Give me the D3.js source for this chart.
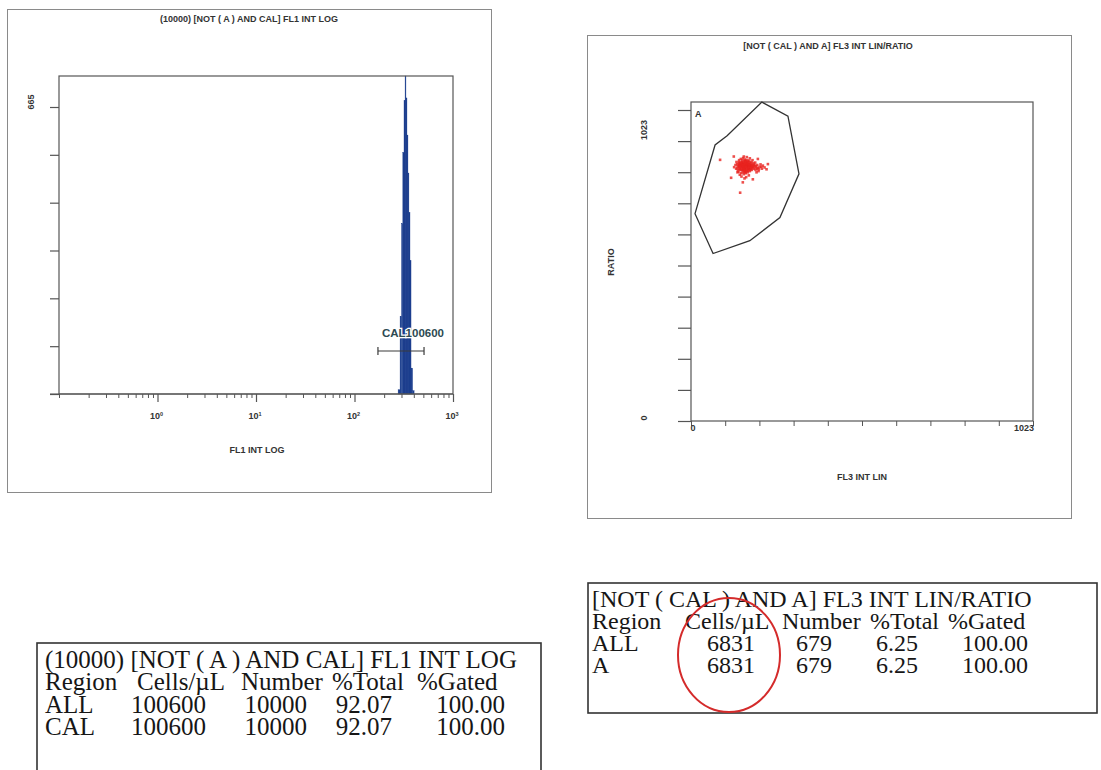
<!DOCTYPE html>
<html>
<head>
<meta charset="utf-8">
<script src="https://cdn.jsdelivr.net/npm/d3@7"></script>
<style>
  body { margin: 0; background: #fff; }
  svg { display: block; }
  .lab { font-family: "Liberation Sans", Arial, sans-serif; font-weight: bold; font-size: 9px; fill: #333; }
  .tbl { font-family: "Liberation Serif", "Times New Roman", serif; font-size: 24px; fill: #161616; }
</style>
</head>
<body>
<script>
// FL1 INT LOG histogram (bin edges in FL1 units, counts per bin)
let histEdges = [277, 290, 300, 309, 318, 326, 333, 341, 349, 357, 366, 375, 389, 403]
let histCounts = [10, 180, 395, 560, 680, 737, 686, 600, 512, 420, 309, 60, 8]
let calGate = [173, 508]
let calLabel = 'CAL100600'
let histYTicks = [0, 110.8, 221.7, 332.5, 443.3, 554.2, 665]
let logMajor = [1, 10, 100, 1000]
let logExp = ['0', '1', '2', '3']

// FL3 INT LIN / RATIO dot plot
let gateA = [[212, 1049], [290, 1003], [323, 813], [266, 669], [176, 593], [66, 551], [12, 682], [72, 908], [108, 938]]
let events = [
  [150,840],[155,845],[160,838],[165,842],[170,836],[158,850],[148,832],[162,828],[172,845],[168,852],
  [145,848],[152,825],[175,830],[180,840],[178,848],[157,833],[163,855],[153,858],[167,822],[140,838],
  [146,842],[159,844],[171,828],[185,835],[190,842],[195,838],[200,832],[205,836],[212,830],[220,834],
  [143,852],[149,862],[156,865],[161,860],[166,858],[174,856],[181,852],[187,848],[138,845],[135,830],
  [142,820],[150,815],[158,812],[164,815],[170,818],[176,822],[182,826],[188,830],[193,826],[198,842],
  [154,836],[160,832],[166,846],[172,840],[178,834],[152,850],[147,826],[163,838],[169,830],[157,842],
  [151,804],[160,798],[146,810],[173,808],[165,802],[139,818],[133,842],[129,835],[184,858],[192,850],
  [208,844],[215,840],[226,828],[202,822],[196,818],[158,870],[167,868],[176,864],[144,858],[136,852],
  [87,859],[147,751],[120,800],[230,845],[185,795],[155,785],[128,870],[200,862],[156,828],[162,848],
  [149,845],[168,838],[174,828],[153,840],[161,822],[177,842],[144,836],[159,856],[171,850],[183,844],
  [151,835],[156,839],[161,843],[166,835],[171,842],[176,838],[155,826],[160,820],[165,826],[170,824],
  [148,838],[153,845],[158,835],[163,832],[168,844],[173,834],[178,840],[183,832],[188,838],[193,834],
  [150,828],[155,818],[160,826],[165,848],[170,856],[175,850],[145,830],[140,826],[143,844],[152,852],
  [157,848],[162,852],[167,840],[172,832],[177,826],[182,838],[187,842],[197,830],[203,828],[210,836],
  [154,842],[159,830],[164,836],[169,846],[174,844],[179,830],[149,850],[144,840],[139,832],[163,818]
]
let linTicks = [0, 102.3, 204.6, 306.9, 409.2, 511.5, 613.8, 716.1, 818.4, 920.7, 1023]

// result tables
let tblHeader = ['Region', 'Cells/\u00b5L', 'Number', '%Total', '%Gated']
let tbl1Title = '(10000) [NOT ( A ) AND CAL] FL1  INT LOG'
let tbl1Rows = [['ALL', '100600', '10000', '92.07', '100.00'], ['CAL', '100600', '10000', '92.07', '100.00']]
let tbl2Title = '[NOT ( CAL ) AND A] FL3 INT LIN/RATIO'
let tbl2Rows = [['ALL', '6831', '679', '6.25', '100.00'], ['A', '6831', '679', '6.25', '100.00']]

let svg = d3.select('body').append('svg')
  .attr('width', 1101)
  .attr('height', 770)

// ---------- left panel ----------
svg.append('rect')
  .attr('x', 7.5).attr('y', 9.5).attr('width', 484).attr('height', 483)
  .attr('fill', 'none').attr('stroke', '#8a8a8a')

svg.append('text').attr('class', 'lab')
  .attr('x', 249).attr('y', 22).attr('text-anchor', 'middle')
  .text('(10000) [NOT ( A ) AND CAL] FL1 INT LOG')

let xL = d3.scaleLog().domain([0.1, 1000]).range([59, 453])
let yL = d3.scaleLinear().domain([0, 665]).range([394, 107])
let topL = 76

let gL = svg.append('g')

let bins = histCounts.map((c, i) => ({x0: histEdges[i], x1: histEdges[i + 1], n: c}))
gL.selectAll('rect.bin').data(bins).enter().append('rect')
  .attr('class', 'bin')
  .attr('x', d => xL(d.x0))
  .attr('width', d => xL(d.x1) - xL(d.x0))
  .attr('y', d => Math.max(topL, yL(d.n)))
  .attr('height', d => yL(0) - Math.max(topL, yL(d.n)))
  .attr('fill', '#1d3f8e')
  .attr('stroke', '#1d3f8e')
  .attr('stroke-width', 0.3)

gL.append('rect')
  .attr('x', 59).attr('y', topL).attr('width', 453 - 59).attr('height', yL(0) - topL)
  .attr('fill', 'none').attr('stroke', '#555').attr('stroke-width', 1.2)

// y axis ticks
gL.append('g')
  .attr('transform', 'translate(59,0)')
  .call(d3.axisLeft(yL).tickValues(histYTicks).tickSize(9).tickFormat(''))
  .call(g => g.select('.domain').remove())
  .selectAll('line').attr('stroke', '#555').attr('stroke-width', 1.2)

gL.append('text').attr('class', 'lab')
  .attr('transform', 'translate(34,' + (yL(665) - 5) + ') rotate(-90)')
  .attr('text-anchor', 'middle')
  .text('665')

// x axis
gL.append('line')
  .attr('x1', 50).attr('x2', 453).attr('y1', yL(0)).attr('y2', yL(0))
  .attr('stroke', '#555').attr('stroke-width', 1.2)

gL.append('g')
  .attr('transform', 'translate(0,' + yL(0) + ')')
  .call(d3.axisBottom(xL).tickValues(xL.ticks().filter(v => logMajor.indexOf(v) < 0)).tickSize(4).tickFormat(''))
  .call(g => g.select('.domain').remove())
  .selectAll('line').attr('stroke', '#555')

gL.append('g')
  .attr('transform', 'translate(0,' + yL(0) + ')')
  .call(d3.axisBottom(xL).tickValues(logMajor).tickSize(8).tickFormat(''))
  .call(g => g.select('.domain').remove())
  .selectAll('line').attr('stroke', '#555').attr('stroke-width', 1.2)

let decade = gL.selectAll('text.dec').data(logMajor).enter().append('text')
  .attr('class', 'lab dec')
  .attr('x', d => xL(d) - 1)
  .attr('y', 419)
  .attr('text-anchor', 'middle')
  .attr('font-size', 8)
decade.append('tspan').text('10')
decade.append('tspan').attr('dy', -3).attr('font-size', 5.5).text((d, i) => logExp[i])

gL.append('text').attr('class', 'lab')
  .attr('x', 257).attr('y', 453).attr('text-anchor', 'middle')
  .text('FL1 INT LOG')

// CAL marker
let gateY = 351
gL.append('line')
  .attr('x1', xL(calGate[0])).attr('x2', xL(calGate[1]))
  .attr('y1', gateY).attr('y2', gateY)
  .attr('stroke', '#3a3a3a').attr('stroke-width', 1.2)
gL.selectAll('line.gend').data(calGate).enter().append('line')
  .attr('class', 'gend')
  .attr('x1', d => xL(d)).attr('x2', d => xL(d))
  .attr('y1', gateY - 4).attr('y2', gateY + 4)
  .attr('stroke', '#3a3a3a').attr('stroke-width', 1.2)
gL.append('text')
  .attr('x', (xL(calGate[0]) + xL(calGate[1])) / 2 + 12)
  .attr('y', 337)
  .attr('text-anchor', 'middle')
  .attr('font-family', 'Liberation Sans, Arial, sans-serif')
  .attr('font-weight', 'bold')
  .attr('font-size', 11.5)
  .attr('fill', '#2d4a52')
  .attr('stroke', '#fff')
  .attr('stroke-width', 2.5)
  .attr('paint-order', 'stroke')
  .text(calLabel)

// ---------- right panel ----------
svg.append('rect')
  .attr('x', 587.5).attr('y', 35.5).attr('width', 484).attr('height', 483)
  .attr('fill', 'none').attr('stroke', '#8a8a8a')

svg.append('text').attr('class', 'lab')
  .attr('x', 828).attr('y', 49).attr('text-anchor', 'middle')
  .text('[NOT ( CAL ) AND A] FL3 INT LIN/RATIO')

let xR = d3.scaleLinear().domain([0, 1023]).range([691, 1033])
let yR = d3.scaleLinear().domain([0, 1023]).range([421, 110])
let topR = 102

let gR = svg.append('g')

gR.append('rect')
  .attr('x', 691).attr('y', topR).attr('width', 1033 - 691).attr('height', yR(0) - topR)
  .attr('fill', 'none').attr('stroke', '#555').attr('stroke-width', 1.2)

gR.append('g')
  .attr('transform', 'translate(691,0)')
  .call(d3.axisLeft(yR).tickValues(linTicks).tickSize(13).tickFormat(''))
  .call(g => g.select('.domain').remove())
  .selectAll('line').attr('stroke', '#555').attr('stroke-width', 1.2)

gR.append('g')
  .attr('transform', 'translate(0,' + yR(0) + ')')
  .call(d3.axisBottom(xR).tickValues(linTicks).tickSize(5).tickFormat(''))
  .call(g => g.select('.domain').remove())
  .selectAll('line').attr('stroke', '#555')

gR.append('text').attr('class', 'lab')
  .attr('transform', 'translate(647,' + (yR(1023) + 20) + ') rotate(-90)')
  .attr('text-anchor', 'middle').text('1023')
gR.append('text').attr('class', 'lab')
  .attr('transform', 'translate(647,' + (yR(0) - 3) + ') rotate(-90)')
  .attr('text-anchor', 'middle').text('0')
gR.append('text').attr('class', 'lab')
  .attr('transform', 'translate(614,262) rotate(-90)')
  .attr('text-anchor', 'middle').text('RATIO')

gR.append('text').attr('class', 'lab').attr('font-size', 8)
  .attr('x', xR(0) + 2).attr('y', 431).attr('text-anchor', 'middle').text('0')
gR.append('text').attr('class', 'lab').attr('font-size', 8)
  .attr('x', xR(1023) - 9).attr('y', 431).attr('text-anchor', 'middle').text('1023')
gR.append('text').attr('class', 'lab')
  .attr('x', 862).attr('y', 480).attr('text-anchor', 'middle').text('FL3 INT LIN')

// gate A
gR.append('path')
  .datum(gateA)
  .attr('d', d3.line().x(d => xR(d[0])).y(d => yR(d[1])).curve(d3.curveLinearClosed))
  .attr('fill', 'none')
  .attr('stroke', '#333')
  .attr('stroke-width', 1.3)

gR.append('text')
  .attr('x', 695).attr('y', 117)
  .attr('font-family', 'Liberation Sans, Arial, sans-serif')
  .attr('font-weight', 'bold').attr('font-size', 9).attr('fill', '#333')
  .text('A')

gR.selectAll('rect.ev').data(events).enter().append('rect')
  .attr('class', 'ev')
  .attr('x', d => xR(d[0]) - 1.3)
  .attr('y', d => yR(d[1]) - 1.3)
  .attr('width', 2.6).attr('height', 2.6)
  .attr('fill', '#e8231f')
  .attr('opacity', 0.8)

// ---------- tables ----------
function drawTable(box, title, rows, pos) {
  let g = svg.append('g').style('font-size', pos.size + 'px')
  g.append('rect')
    .attr('x', box[0]).attr('y', box[1]).attr('width', box[2]).attr('height', box[3])
    .attr('fill', 'none').attr('stroke', '#333').attr('stroke-width', 1.6)
  g.append('text').attr('class', 'tbl').style('font-size', pos.size + 'px')
    .attr('x', pos.left).attr('y', pos.base[0]).text(title)
  g.selectAll('text.hd').data(tblHeader).enter().append('text')
    .attr('class', 'tbl hd').style('font-size', pos.size + 'px')
    .attr('x', (d, i) => pos.head[i]).attr('y', pos.base[1]).text(d => d)
  rows.forEach((row, r) => {
    g.append('text').attr('class', 'tbl').style('font-size', pos.size + 'px')
      .attr('x', pos.left).attr('y', pos.base[2 + r]).text(row[0])
    g.selectAll('text.r' + r).data(row.slice(1)).enter().append('text')
      .attr('class', 'tbl r' + r).style('font-size', pos.size + 'px')
      .attr('text-anchor', 'end')
      .attr('x', (d, i) => pos.ends[i]).attr('y', pos.base[2 + r]).text(d => d)
  })
}

drawTable([37, 643, 504, 140], tbl1Title, tbl1Rows, {
  size: 25, left: 45, base: [668, 690, 713, 735],
  head: [45, 137, 241, 332, 417], ends: [206, 307, 392, 505]
})

drawTable([588, 583, 509, 130], tbl2Title, tbl2Rows, {
  size: 24, left: 592, base: [607, 629, 651, 673],
  head: [592, 685, 782, 870, 948], ends: [755, 832, 918, 1028]
})

// hand-drawn red circle around Cells/uL
svg.append('ellipse')
  .attr('cx', 729).attr('cy', 655).attr('rx', 51).attr('ry', 57)
  .attr('fill', 'none').attr('stroke', '#d42b2b').attr('stroke-width', 2)
</script>
</body>
</html>
